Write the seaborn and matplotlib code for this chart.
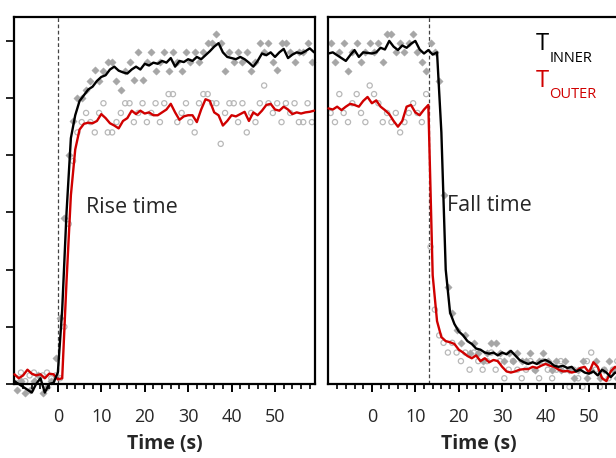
import numpy as np
import pandas as pd
import matplotlib
matplotlib.use("Agg")
import matplotlib.pyplot as plt
import seaborn as sns
from matplotlib.ticker import FixedLocator

# ======================
# Data (arbitrary units)
# ======================

# left panel: rise, lines sampled every 1 s
rise_t = np.arange(-10, 60, 1.0)
rise_inner = [0.05, 0.0, -0.05, -0.1, -0.15, 0.0, 0.1, -0.15, 0.0, 0.02,
              0.2, 1.3, 3.0, 4.3, 4.7, 4.95, 5.05, 5.15, 5.2, 5.3,
              5.37, 5.4, 5.5, 5.55, 5.48, 5.45, 5.43, 5.5, 5.55, 5.5,
              5.6, 5.57, 5.62, 5.6, 5.65, 5.62, 5.7, 5.55, 5.65, 5.63,
              5.68, 5.65, 5.72, 5.68, 5.75, 5.82, 5.9, 5.96, 5.8, 5.72,
              5.7, 5.68, 5.72, 5.68, 5.62, 5.55, 5.65, 5.78, 5.75, 5.8,
              5.72, 5.8, 5.86, 5.7, 5.76, 5.8, 5.78, 5.82, 5.87, 5.8]
rise_outer = [0.17, 0.1, 0.15, 0.25, 0.18, 0.15, 0.17, 0.1, 0.18, 0.17,
              0.08, 0.1, 1.8, 3.3, 4.1, 4.45, 4.55, 4.57, 4.56, 4.6,
              4.72, 4.65, 4.56, 4.52, 4.47, 4.6, 4.65, 4.78, 4.72, 4.78,
              4.73, 4.75, 4.7, 4.7, 4.75, 4.8, 4.9, 4.75, 4.62, 4.68,
              4.7, 4.7, 4.58, 4.8, 4.98, 4.95, 4.75, 4.7, 4.52, 4.6,
              4.7, 4.68, 4.72, 4.76, 4.6, 4.75, 4.7, 4.78, 4.88, 4.9,
              4.8, 4.78, 4.85, 4.8, 4.72, 4.75, 4.73, 4.75, 4.76, 4.78]

# raw samples (between line samples)
rise_pt = np.arange(-9.5, 59, 1.0)
rise_inner_pts = [-0.1, 0.05, -0.15, -0.1, 0.05, 0.15, -0.15, -0.05, 0.05, 0.45,
                  1.15, 2.9, 4.0, 4.6, 5.0, 5.0, 5.15, 5.3, 5.5, 5.3,
                  5.48, 5.63, 5.63, 5.3, 5.15, 5.47, 5.63, 5.32, 5.8, 5.32,
                  5.63, 5.8, 5.48, 5.63, 5.8, 5.48, 5.8, 5.63, 5.48, 5.8,
                  5.63, 5.8, 5.63, 5.8, 5.97, 5.97, 6.12, 5.97, 5.48, 5.8,
                  5.63, 5.8, 5.63, 5.8, 5.48, 5.63, 5.97, 5.8, 5.97, 5.63,
                  5.5, 5.97, 5.97, 5.8, 5.63, 5.8, 5.8, 5.97, 5.63]
rise_outer_pts = [0.1, 0.2, 0.05, 0.15, 0.2, 0.1, 0.15, 0.2, 0.1, 0.15,
                  0.1, 1.0, 2.8, 3.9, 4.4, 4.58, 4.74, 4.58, 4.4, 4.74,
                  4.91, 4.4, 4.4, 4.58, 4.74, 4.91, 4.91, 4.58, 4.74, 4.91,
                  4.58, 4.74, 4.91, 4.58, 4.91, 5.07, 5.07, 4.58, 4.74, 4.91,
                  4.58, 4.4, 4.91, 5.07, 5.07, 4.91, 4.91, 4.2, 4.74, 4.91,
                  4.91, 4.58, 4.91, 4.4, 4.74, 4.58, 4.91, 5.22, 4.91, 4.74,
                  4.91, 4.58, 4.91, 4.74, 4.91, 4.58, 4.58, 4.91, 4.58]

# right panel: fall
fall_t = np.arange(-10, 58, 1.0)
fall_inner = [5.78, 5.8, 5.75, 5.7, 5.65, 5.75, 5.84, 5.72, 5.8, 5.79,
              5.78, 5.8, 5.88, 5.85, 6.0, 5.9, 5.84, 5.92, 5.88, 5.95,
              6.0, 5.85, 5.78, 5.84, 5.76, 5.8, 4.4, 2.0, 1.25, 1.05,
              0.92, 0.85, 0.75, 0.7, 0.62, 0.6, 0.55, 0.53, 0.55, 0.5,
              0.55, 0.52, 0.58, 0.5, 0.42, 0.38, 0.35, 0.38, 0.35, 0.4,
              0.42, 0.38, 0.32, 0.3, 0.32, 0.28, 0.3, 0.22, 0.25, 0.2,
              0.18, 0.22, 0.15, 0.25, 0.2, 0.12, 0.2, 0.18]
fall_outer = [4.82, 4.8, 4.85, 4.79, 4.85, 4.9, 4.88, 4.85, 4.95, 5.02,
              4.91, 4.96, 4.85, 4.79, 4.72, 4.6, 4.5, 4.6, 4.85, 4.88,
              4.75, 4.7, 4.8, 4.88, 1.9, 1.1, 0.82, 0.75, 0.73, 0.7,
              0.6, 0.55, 0.49, 0.45, 0.5, 0.4, 0.45, 0.38, 0.42, 0.4,
              0.3, 0.22, 0.2, 0.22, 0.25, 0.26, 0.26, 0.3, 0.28, 0.32,
              0.35, 0.32, 0.3, 0.25, 0.22, 0.23, 0.2, 0.22, 0.28, 0.3,
              0.2, 0.38, 0.3, 0.1, 0.05, 0.22, 0.3, 0.25]

fall_pt = np.arange(-9.5, 57, 1.0)
fall_inner_pts = [5.97, 5.63, 5.8, 5.97, 5.48, 5.8, 5.97, 5.63, 5.8, 5.97,
                  5.8, 5.97, 5.63, 6.12, 6.12, 5.8, 5.97, 5.8, 5.97, 6.12,
                  5.8, 5.63, 5.48, 5.97, 5.8, 5.3, 3.3, 1.7, 1.25, 0.95,
                  0.72, 0.85, 0.55, 0.72, 0.55, 0.4, 0.55, 0.72, 0.72, 0.55,
                  0.4, 0.55, 0.4, 0.55, 0.4, 0.4, 0.55, 0.25, 0.4, 0.55,
                  0.4, 0.25, 0.4, 0.25, 0.4, 0.25, 0.1, 0.25, 0.4, 0.1,
                  0.25, 0.4, 0.1, 0.25, 0.4, 0.25, 0.1]
fall_outer_pts = [4.74, 4.58, 5.07, 4.74, 4.58, 4.91, 5.07, 4.74, 4.58, 5.22,
                  5.07, 4.91, 4.58, 4.74, 4.58, 4.74, 4.4, 4.58, 4.74, 4.91,
                  4.74, 4.58, 5.07, 2.4, 1.3, 0.85, 0.72, 0.55, 0.72, 0.55,
                  0.4, 0.55, 0.25, 0.55, 0.4, 0.25, 0.4, 0.55, 0.25, 0.4,
                  0.1, 0.25, 0.4, 0.25, 0.1, 0.25, 0.4, 0.25, 0.1, 0.4,
                  0.25, 0.1, 0.25, 0.4, 0.25, -0.05, 0.25, 0.1, -0.05, 0.4,
                  0.55, 0.25, -0.05, 0.25, 0.1, 0.25, 0.4]

step_time = [0.0, 13.2]   # dashed markers: stimulus on / off
x_ticks = [0, 10, 20, 30, 40, 50]
x_minor = [m for m in range(-10, 60, 2) if m % 10 != 0]
y_ticks = [0, 1, 2, 3, 4, 5, 6]

# ======================
# Styling
# ======================

sns.set_style("ticks")
plt.rcParams["font.family"] = ["Open Sans", "DejaVu Sans"]

RED = "#d00000"
DIAMOND = "#a6a6a6"
CIRCLE = "#b8b8b8"
XLIM = (-10.1, 59.2)

fig = plt.figure(figsize=(6.16, 4.58), dpi=100)
ax1 = fig.add_axes([0.0227, 0.1616, 0.4886, 0.8015])
ax2 = fig.add_axes([0.5325, 0.1616, 0.4886, 0.8015])


def draw_panel(ax, t, inner, outer, tp, inner_pts, outer_pts, step):
    pts = pd.DataFrame({"t": tp, "inner": inner_pts, "outer": outer_pts})
    lines = pd.DataFrame({"t": t, "inner": inner, "outer": outer})

    sns.scatterplot(data=pts, x="t", y="outer", ax=ax, marker="o", s=14,
                    facecolors="none", edgecolor=CIRCLE, linewidth=0.9,
                    clip_on=False, zorder=1)
    sns.scatterplot(data=pts, x="t", y="inner", ax=ax, marker="D", s=14,
                    color=DIAMOND, edgecolor=DIAMOND, linewidth=0.3,
                    clip_on=False, zorder=2)
    sns.lineplot(data=lines, x="t", y="outer", ax=ax, color=RED, lw=1.7,
                 clip_on=False, zorder=3)
    sns.lineplot(data=lines, x="t", y="inner", ax=ax, color="black", lw=1.7,
                 clip_on=False, zorder=4)

    ax.axvline(step, color="#444444", lw=0.9, ls=(0, (3, 2)), zorder=0)

    ax.set_xlim(*XLIM)
    ax.set_ylim(0, 6.42)
    ax.set_ylabel("")
    ax.set_xlabel("Time (s)", fontsize=14, fontweight="bold", labelpad=6)

    # tick labels from the axis, tick marks drawn as short lines below it
    ax.xaxis.set_major_locator(FixedLocator(x_ticks))
    ax.tick_params(axis="x", which="both", bottom=True, length=0,
                   labelsize=13, pad=17)
    xt = ax.get_xaxis_transform()
    ax.vlines(x_ticks, -0.022, 0, transform=xt, colors="black", lw=1.4,
              clip_on=False, zorder=6)
    ax.vlines(x_minor, -0.013, 0, transform=xt, colors="black", lw=1.2,
              clip_on=False, zorder=6)

    for side in ["top", "bottom", "left", "right"]:
        ax.spines[side].set_visible(True)
        ax.spines[side].set_linewidth(1.6)
        ax.spines[side].set_color("black")


draw_panel(ax1, rise_t, rise_inner, rise_outer, rise_pt,
           rise_inner_pts, rise_outer_pts, step_time[0])
draw_panel(ax2, fall_t, fall_inner, fall_outer, fall_pt,
           fall_inner_pts, fall_outer_pts, step_time[1])

# y ticks only on the left panel, no labels
ax1.yaxis.set_major_locator(FixedLocator(y_ticks))
ax1.tick_params(axis="y", left=True, direction="out", length=6, width=1.4,
                labelleft=False)
ax2.tick_params(axis="y", left=False, labelleft=False)

ax1.text(6.5, 3.09, "Rise time", fontsize=15.5, va="center", ha="left")
ax2.text(17.3, 3.12, "Fall time", fontsize=15.5, va="center", ha="left")

# legend-like labels with subscripts
t_in = ax2.text(37.8, 5.84, "T", fontsize=17, color="black",
                ha="left", va="baseline")
ax2.annotate("INNER", xy=(1.0, 0.0), xycoords=t_in, xytext=(0.0, -4),
             textcoords="offset points", fontsize=10.5, color="black",
             ha="left", va="baseline")
t_out = ax2.text(37.8, 5.2, "T", fontsize=17, color=RED,
                 ha="left", va="baseline")
ax2.annotate("OUTER", xy=(1.0, 0.0), xycoords=t_out, xytext=(0.0, -4),
             textcoords="offset points", fontsize=10.5, color=RED,
             ha="left", va="baseline")

fig.savefig("out.png", dpi=100)
